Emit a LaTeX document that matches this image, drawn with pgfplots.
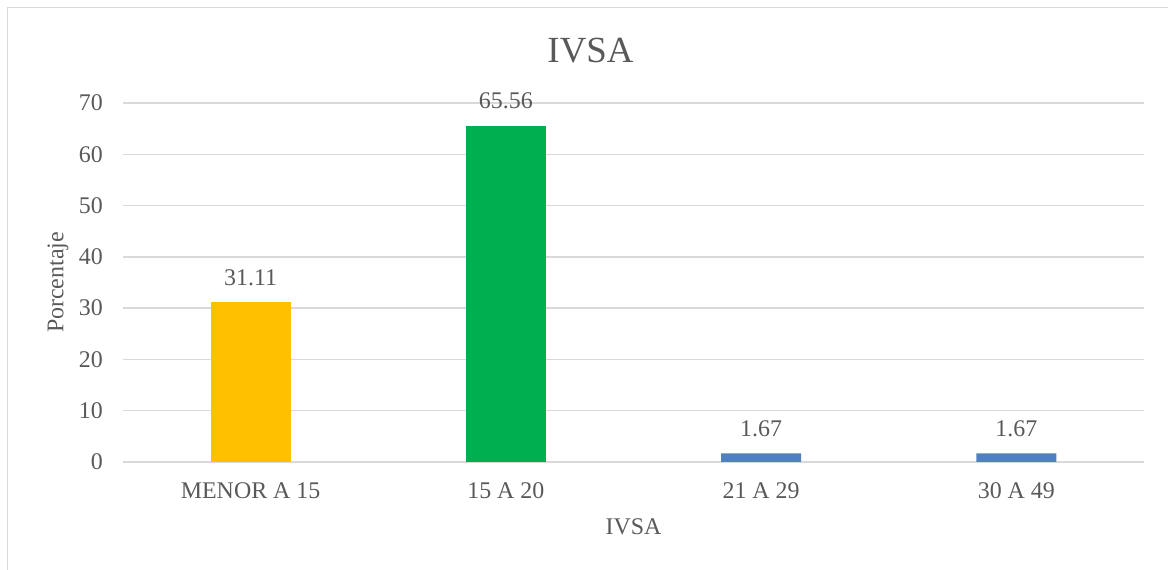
\documentclass[border=0pt]{standalone}
\usepackage{fontspec}
\setmainfont{Liberation Serif}
\usepackage{pgfplots}
\pgfplotsset{compat=1.18}
\definecolor{txt}{HTML}{595959}
\definecolor{gridc}{HTML}{D9D9D9}
\definecolor{cgold}{HTML}{FFC000}
\definecolor{cgreen}{HTML}{00B050}
\definecolor{cblue}{HTML}{4F81BD}
\begin{document}
\begin{tikzpicture}[x=1bp,y=1bp]
\useasboundingbox (0,0) rectangle (1168,570);
\draw[color=gridc, line width=1.5bp] (7.5,0) -- (7.5,562.5) -- (1168,562.5);
\begin{axis}[
  at={(123bp,108bp)}, anchor=south west,
  scale only axis, width=1021bp, height=359bp,
  xmin=-0.5, xmax=3.5, ymin=0, ymax=70,
  ytick={0,10,...,70},
  xtick={0,1,2,3},
  xticklabels={MENOR A 15,15 A 20,21 A 29,30 A 49},
  axis line style={draw=none},
  major tick length=0pt,
  ymajorgrids, grid style={color=gridc, line width=1.5bp},
  /pgf/number format/assume math mode=true,
  tick label style={font=\fontsize{24}{28}\selectfont, text=txt, inner sep=0pt},
  yticklabel shift=20bp,
  xticklabel shift=20bp,
  xlabel={IVSA}, ylabel={Porcentaje},
  label style={font=\fontsize{24}{28}\selectfont, text=txt},
  xlabel style={at={(axis description cs:0.5,0)}, yshift=-65bp, anchor=center},
  ylabel style={at={(axis description cs:0,0.5)}, yshift=65bp, anchor=center},
  title={IVSA},
  title style={at={(axis description cs:0.5,1)}, xshift=-43bp, yshift=46bp, anchor=center, font=\fontsize{37}{40}\selectfont, text=txt},
  ybar, bar width=80bp,
  point meta=explicit symbolic,
  nodes near coords,
  nodes near coords style={font=\fontsize{24}{28}\selectfont, text=txt, anchor=center, yshift=25bp},
]
\addplot[bar shift=0pt, fill=cgold, draw=none] coordinates {(0,31.11)[31.11]};
\addplot[bar shift=0pt, fill=cgreen, draw=none] coordinates {(1,65.56)[65.56]};
\addplot[bar shift=0pt, fill=cblue, draw=none] coordinates {(2,1.67)[1.67] (3,1.67)[1.67]};
\end{axis}
\end{tikzpicture}
\end{document}
